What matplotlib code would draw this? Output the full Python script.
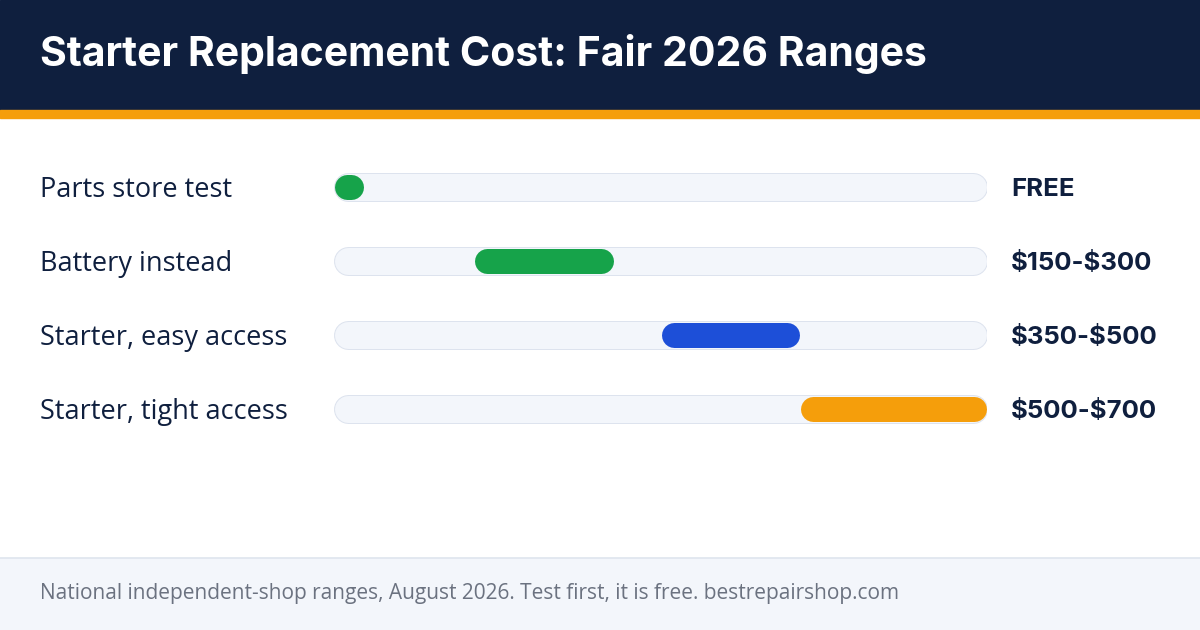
import matplotlib
matplotlib.use("Agg")
import matplotlib.pyplot as plt
from matplotlib.patches import Rectangle

plt.rcParams["text.parse_math"] = False
categories = ["Parts store test", "Battery instead", "Starter, easy access", "Starter, tight access"]
low = [0, 150, 350, 500]
high = [0, 300, 500, 700]
value_labels = ["FREE", "$150-$300", "$350-$500", "$500-$700"]
colors = ["#16a34a", "#16a34a", "#1d4fd8", "#f59e0b"]
title = "Starter Replacement Cost: Fair 2026 Ranges"
footer = "National independent-shop ranges, August 2026. Test first, it is free. bestrepairshop.com"
xmax = 700

W, H = 1200, 630
fig = plt.figure(figsize=(12, 6.3), dpi=100)
bg = fig.add_axes([0, 0, 1, 1])
bg.set_xlim(0, W); bg.set_ylim(H, 0); bg.axis("off")
bg.add_patch(Rectangle((0, 0), W, 110, color="#0f1f3e", zorder=1))
bg.add_patch(Rectangle((0, 110), W, 8, color="#f59e0b", zorder=1))
bg.add_patch(Rectangle((0, 558), W, 72, color="#f3f6fb", zorder=1))
bg.plot([0, W], [558, 558], color="#dfe5ee", lw=1.2, zorder=2)
bg.text(40, 54, title, color="white", fontsize=29.5, fontweight="bold",
        family="Inter", va="center", ha="left")
bg.text(40, 594, footer, color="#6b7280", fontsize=15, family="Open Sans", va="center")

ys = [187, 261, 335, 409]
for y, c, v in zip(ys, categories, value_labels):
    bg.text(40, y + 3, c, color="#0f1f3e", fontsize=19.5, family="Open Sans", fontweight="medium", va="center")
    bg.text(1011, y + 3, v, color="#0f1f3e", fontsize=18.5, fontweight="bold", family="Inter", va="center")

x0p, x1p = 334, 987
ax = fig.add_axes([x0p / W, 0, (x1p - x0p) / W, 1])
ax.set_xlim(0, xmax); ax.set_ylim(H, 0); ax.axis("off")
ax.patch.set_alpha(0)
px = 72 / 100
r_track = 14 * xmax / (x1p - x0p)
for y, lo, hi, col in zip(ys, low, high, colors):
    ax.plot([r_track, xmax - r_track], [y, y], color="#dde3ee", lw=29 * px, solid_capstyle="round")
    ax.plot([r_track, xmax - r_track], [y, y], color="#f3f6fb", lw=27 * px, solid_capstyle="round")
    r = 13 * xmax / (x1p - x0p)
    a = lo + r
    b = max(hi - r, a + 4)
    ax.plot([a, b], [y, y], color=col, lw=25 * px, solid_capstyle="round")

fig.savefig("out.png", dpi=100)
